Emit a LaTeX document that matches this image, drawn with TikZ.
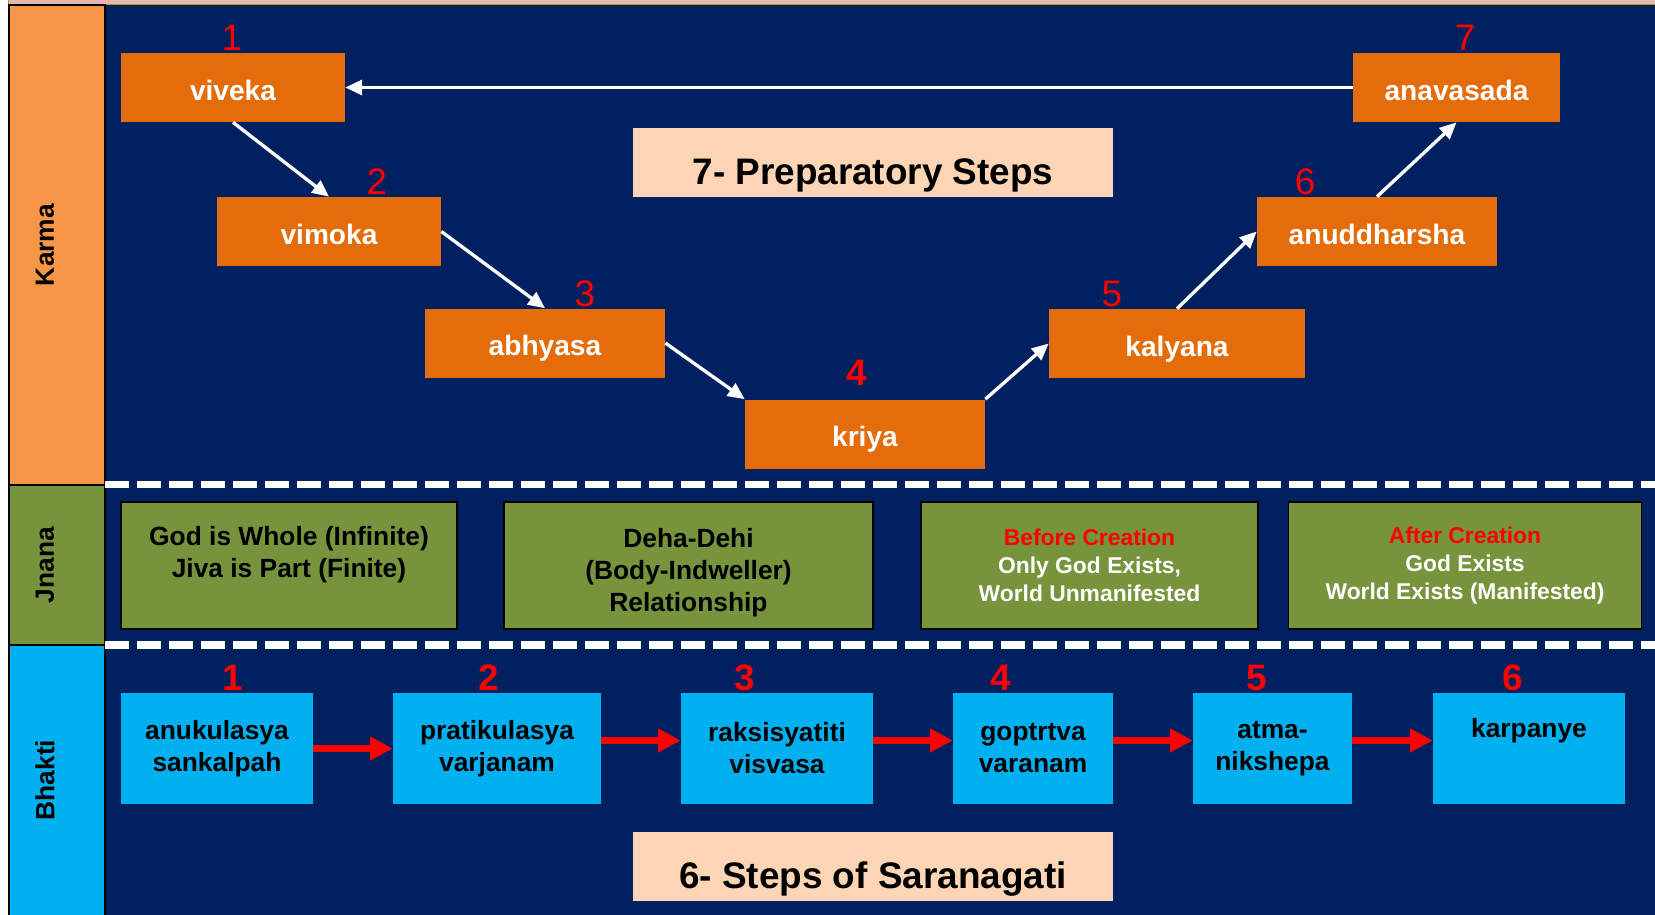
\documentclass[tikz,border=0pt]{standalone}
\usepackage{fontspec}
\setmainfont{Liberation Sans}
\usepackage{xcolor}
\usetikzlibrary{arrows.meta,positioning}
\definecolor{navy}{RGB}{0,32,96}
\definecolor{korange}{RGB}{228,108,10}
\definecolor{karmacol}{RGB}{247,150,70}
\definecolor{jgreen}{RGB}{119,147,60}
\definecolor{bcyan}{RGB}{0,176,240}
\definecolor{peach}{RGB}{252,213,181}
\definecolor{topstrip}{RGB}{230,185,176}
\definecolor{goldline}{RGB}{191,144,0}

\begin{document}
\begin{tikzpicture}[
    kbox/.style={
        fill=korange,
        text=white,
        minimum height=1.38cm,
        inner sep=0pt,
        text height=14.3pt,
        text depth=0pt,
        font=\fontsize{16}{19}\selectfont\bfseries
    },
    tbox/.style={
        fill=peach,
        minimum width=9.6cm,
        minimum height=1.38cm,
        inner sep=0pt,
        text height=24.8pt,
        text depth=0pt,
        font=\fontsize{21}{25}\selectfont\bfseries
    },
    jbox/.style={
        fill=jgreen,
        draw=black,
        line width=1.1pt,
        minimum height=2.54cm,
        inner sep=0pt,
        align=center,
        font=\fontsize{15}{18}\selectfont\bfseries
    },
    jsmall/.style={
        text=white,
        font=\fontsize{13}{16}\selectfont\bfseries
    },
    bbox/.style={
        fill=bcyan,
        minimum height=2.22cm,
        inner sep=0pt,
        align=center,
        font=\fontsize{15}{18.2}\selectfont\bfseries
    },
    knum/.style={text=red, inner sep=0pt, font=\fontsize{21}{21}\selectfont},
    bnum/.style={text=red, inner sep=0pt, font=\fontsize{21}{21}\selectfont\bfseries},
    lane/.style={rotate=90, inner sep=0pt, font=\fontsize{15}{18}\selectfont\bfseries},
    cell/.style={draw=black, line width=1.1pt},
    sep/.style={white, line width=4pt, dash pattern=on 13.66pt off 4.55pt},
    warr/.style={-{Triangle[length=9.5pt,width=8.5pt]}, white, line width=1.9pt},
    rarr/.style={-{Triangle[length=13pt,width=13pt]}, red, line width=4.5pt}
]

\useasboundingbox (0,0) rectangle (33.1,-18.3);

\fill[navy] (2.1,-0.1) rectangle (33.1,-18.3);
\fill[topstrip] (0.18,0) rectangle (33.1,-0.09);
\draw[goldline, line width=0.6pt] (0.17,0) |- (33.1,-0.09);

\draw[cell, fill=karmacol] (0.18,-0.1) rectangle (2.1,-9.7);
\draw[cell, fill=jgreen] (0.18,-9.7) rectangle (2.1,-12.9);
\draw[cell, fill=bcyan] (0.18,-12.9) rectangle (2.1,-18.5);

\node[lane] (karma) at (0.9,-4.9) {Karma};
\node[lane] (jnana) at (0.9,-11.3) {Jnana};
\node[lane] (bhakti) at (0.9,-15.6) {Bhakti};

\draw[sep] (2.1,-9.69) -- (33.1,-9.69);
\draw[sep] (2.1,-12.9) -- (33.1,-12.9);

\node[kbox, minimum width=4.48cm] (viveka) at (4.66,-1.75) {viveka};
\node[kbox, minimum width=4.48cm] (vimoka) at (6.58,-4.63) {vimoka};
\node[kbox, minimum width=4.80cm] (abhyasa) at (10.90,-6.86) {abhyasa};
\node[kbox, minimum width=4.80cm] (kriya) at (17.30,-8.68) {kriya};
\node[kbox, minimum width=5.12cm] (kalyana) at (23.54,-6.87) {kalyana};
\node[kbox, minimum width=4.80cm] (anuddharsha) at (27.54,-4.63) {anuddharsha};
\node[kbox, minimum width=4.14cm] (anavasada) at (29.13,-1.75) {anavasada};

\node[knum] (knum1) at (4.64,-0.76) {1};
\node[knum] (knum2) at (7.54,-3.64) {2};
\node[knum] (knum3) at (11.70,-5.88) {3};
\node[knum, font=\fontsize{21}{21}\selectfont\bfseries] (knum4) at (17.14,-7.46) {4};
\node[knum] (knum5) at (22.24,-5.88) {5};
\node[knum] (knum6) at (26.10,-3.64) {6};
\node[knum] (knum7) at (29.30,-0.76) {7};

\node[tbox] (prep) at (17.46,-3.25) {7- Preparatory Steps};

\draw[warr] (viveka.south) -- (vimoka.north);
\draw[warr] (vimoka.east) -- (abhyasa.north);
\draw[warr] (abhyasa.east) -- (kriya.north west);
\draw[warr] (kriya.north east) -- (kalyana.west);
\draw[warr] (kalyana.north) -- (anuddharsha.west);
\draw[warr] (anuddharsha.north) -- (anavasada.south);
\draw[warr] (anavasada.west) -- (viveka.east);

\node[jbox, minimum width=6.72cm] (whole) at (5.78,-11.31)
{\rule{0pt}{19pt}God is Whole (Infinite)\\Jiva is Part (Finite)\\\strut};
\node[jbox, minimum width=7.38cm] (dehadehi) at (13.77,-11.31)
{\rule{0pt}{19pt}Deha-Dehi\\(Body-Indweller)\\Relationship};
\node[jbox, jsmall, minimum width=6.74cm] (before) at (21.79,-11.31)
{\textcolor{red}{Before Creation}\\Only God Exists,\\World Unmanifested};
\node[jbox, jsmall, minimum width=7.06cm] (after) at (29.30,-11.31)
{\textcolor{red}{After Creation}\\God Exists\\World Exists (Manifested)};

\node[bbox, minimum width=3.84cm] (anukulasya) at (4.34,-14.97) {anukulasya\\sankalpah};
\node[bbox, minimum width=4.16cm] (pratikulasya) at (9.94,-14.97) {pratikulasya\\varjanam};
\node[bbox, minimum width=3.84cm] (raksisyatiti) at (15.54,-14.97) {raksisyatiti\\visvasa};
\node[bbox, minimum width=3.20cm] (goptrtva) at (20.66,-14.97) {goptrtva\\varanam};
\node[bbox, minimum width=3.18cm] (atma) at (25.45,-14.97) {atma-\\nikshepa};
\node[bbox, minimum width=3.84cm] (karpanye) at (30.58,-14.97) {karpanye\\\strut};

\node[bnum] (bnum1) at (4.66,-13.55) {1};
\node[bnum] (bnum2) at (9.78,-13.55) {2};
\node[bnum] (bnum3) at (14.90,-13.55) {3};
\node[bnum] (bnum4) at (20.02,-13.55) {4};
\node[bnum] (bnum5) at (25.14,-13.55) {5};
\node[bnum] (bnum6) at (30.26,-13.55) {6};

\draw[rarr] (anukulasya) -- (pratikulasya);
\draw[rarr] ([yshift=0.16cm]pratikulasya.east) -- ([yshift=0.16cm]raksisyatiti.west);
\draw[rarr] ([yshift=0.16cm]raksisyatiti.east) -- ([yshift=0.16cm]goptrtva.west);
\draw[rarr] ([yshift=0.16cm]goptrtva.east) -- ([yshift=0.16cm]atma.west);
\draw[rarr] ([yshift=0.16cm]atma.east) -- ([yshift=0.16cm]karpanye.west);

\node[tbox] (saran) at (17.46,-17.33) {6- Steps of Saranagati};

\end{tikzpicture}
\end{document}
